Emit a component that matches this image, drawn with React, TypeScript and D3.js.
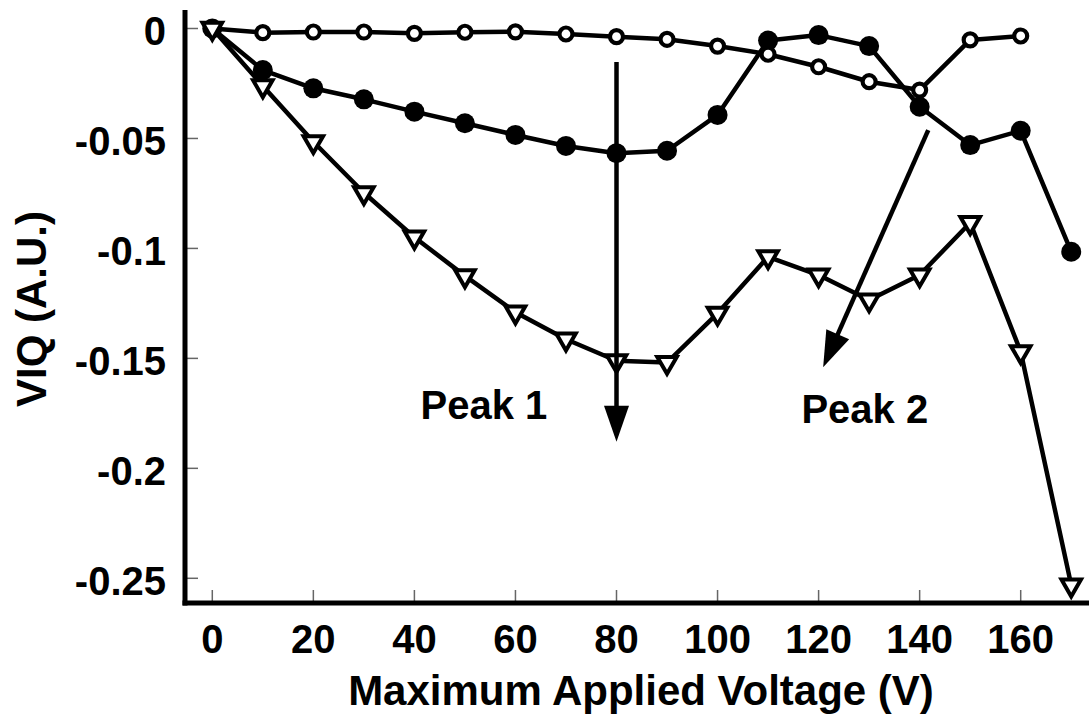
import React from "react";
import * as d3 from "d3";

const voltages = [0, 10, 20, 30, 40, 50, 60, 70, 80, 90, 100, 110, 120, 130, 140, 150, 160, 170];
const openCircleValues = [0, -0.0019, -0.0016, -0.0016, -0.0022, -0.0017, -0.0015, -0.0025, -0.0037, -0.0049, -0.008, -0.0117, -0.0174, -0.0242, -0.028, -0.0052, -0.0034];
const filledCircleValues = [0, -0.0189, -0.0272, -0.0322, -0.0378, -0.0431, -0.0484, -0.0534, -0.0567, -0.0556, -0.0393, -0.0055, -0.003, -0.008, -0.0356, -0.053, -0.0465, -0.1015];
const triangleValues = [0, -0.0261, -0.0515, -0.0747, -0.0949, -0.1125, -0.129, -0.1413, -0.1511, -0.1519, -0.1295, -0.1038, -0.1121, -0.1235, -0.1121, -0.0883, -0.147, -0.2531];

const xTicks = [0, 20, 40, 60, 80, 100, 120, 140, 160];
const yTicks = [0, -0.05, -0.1, -0.15, -0.2, -0.25];
const yTickLabels = ["0", "-0.05", "-0.1", "-0.15", "-0.2", "-0.25"];

const xTitle = "Maximum Applied Voltage (V)";
const yTitle = "VIQ (A.U.)";

// annotations in data coordinates
const peakArrows = [
  { x1: 80, y1: -0.0152, x2: 80, y2: -0.1879 },
  { x1: 141.7, y1: -0.0462, x2: 120.9, y2: -0.154 },
];
const peakLabels = [
  { text: "Peak 1", x: 41.2, y: -0.1776 },
  { text: "Peak 2", x: 116.6, y: -0.1792 },
];

const FONT = "'Liberation Sans', Arial, Helvetica, sans-serif";

export default function App() {
  const W = 1089;
  const H = 717;
  const x = d3.scaleLinear().domain([0, 160]).range([212.3, 1020.7]);
  const y = d3.scaleLinear().domain([0, -0.25]).range([28.5, 578.3]);
  const axisX = 185;
  const axisY = 603;

  const mk = (vals: number[]) =>
    vals.map((v, i) => [voltages[i], v] as [number, number]);
  const line = d3
    .line<[number, number]>()
    .x((d) => x(d[0]))
    .y((d) => y(d[1]));

  const openPts = mk(openCircleValues);
  const filledPts = mk(filledCircleValues);
  const triPts = mk(triangleValues);

  const triPath = (cx: number, cy: number) => {
    const s = 19.5;
    const h = (s * Math.sqrt(3)) / 2;
    const top = cy - h / 3;
    const bottom = cy + (2 * h) / 3;
    return `M${cx - s / 2},${top}L${cx + s / 2},${top}L${cx},${bottom}Z`;
  };

  const arrowHead = (a: { x1: number; y1: number; x2: number; y2: number }) => {
    const sx = x(a.x1), sy = y(a.y1), tx = x(a.x2), ty = y(a.y2);
    const dx = tx - sx, dy = ty - sy;
    const len = Math.hypot(dx, dy);
    const ux = dx / len, uy = dy / len;
    const hl = 36, hw = 12.5;
    const bx = tx - ux * hl, by = ty - uy * hl;
    const px = -uy, py = ux;
    return {
      line: { sx, sy, ex: bx + ux * 2, ey: by + uy * 2 },
      head: `M${tx},${ty}L${bx + px * hw},${by + py * hw}L${bx - px * hw},${by - py * hw}Z`,
    };
  };

  return (
    <svg
      width={W}
      height={H}
      style={{ position: "absolute", left: 0, top: 0, background: "#fff" }}
      fontFamily={FONT}
      fontWeight="bold"
    >
      <rect x={0} y={0} width={W} height={H} fill="#fff" />
      {yTicks.map((t) => (
        <line key={"yt" + t} x1={axisX} x2={axisX + 13} y1={y(t)} y2={y(t)} stroke="#666" strokeWidth={1.5} />
      ))}
      {xTicks.map((t) => (
        <line key={"xt" + t} x1={x(t)} x2={x(t)} y1={axisY - 13} y2={axisY} stroke="#666" strokeWidth={1.5} />
      ))}
      <line x1={axisX} x2={axisX} y1={10} y2={axisY + 2.5} stroke="#000" strokeWidth={5} />
      <line x1={axisX - 2.5} x2={W} y1={axisY} y2={axisY} stroke="#000" strokeWidth={5} />
      {yTicks.map((t, i) => (
        <text key={"yl" + t} x={166} y={y(t) + 16.5} textAnchor="end" fontSize={40} fill="#000">
          {yTickLabels[i]}
        </text>
      ))}
      {xTicks.map((t) => (
        <text key={"xl" + t} x={x(t)} y={653} textAnchor="middle" fontSize={40} fill="#000">
          {t}
        </text>
      ))}
      <text x={641} y={705} textAnchor="middle" fontSize={42} fill="#000">
        {xTitle}
      </text>
      <text
        transform={`translate(46,309) rotate(-90)`}
        textAnchor="middle"
        fontSize={42}
        fill="#000"
      >
        {yTitle}
      </text>
      <path d={line(filledPts) || ""} fill="none" stroke="#000" strokeWidth={4.5} strokeLinejoin="round" />
      <path d={line(openPts) || ""} fill="none" stroke="#000" strokeWidth={4.5} strokeLinejoin="round" />
      <path d={line(triPts) || ""} fill="none" stroke="#000" strokeWidth={4.5} strokeLinejoin="round" />
      {filledPts.map((d, i) => (
        <circle key={"f" + i} cx={x(d[0])} cy={y(d[1])} r={10} fill="#000" />
      ))}
      {openPts.map((d, i) => (
        <circle key={"o" + i} cx={x(d[0])} cy={y(d[1])} r={6.5} fill="#fff" stroke="#000" strokeWidth={4.2} />
      ))}
      {triPts.map((d, i) => (
        <path key={"t" + i} d={triPath(x(d[0]), y(d[1]))} fill="#fff" stroke="#000" strokeWidth={4} strokeLinejoin="miter" />
      ))}
      {peakArrows.map((a, i) => {
        const h = arrowHead(a);
        return (
          <g key={"a" + i}>
            <line x1={h.line.sx} y1={h.line.sy} x2={h.line.ex} y2={h.line.ey} stroke="#000" strokeWidth={4.5} />
            <path d={h.head} fill="#000" />
          </g>
        );
      })}
      {peakLabels.map((p, i) => (
        <text key={"p" + i} x={x(p.x)} y={y(p.y)} fontSize={40} fill="#000">
          {p.text}
        </text>
      ))}
    </svg>
  );
}
